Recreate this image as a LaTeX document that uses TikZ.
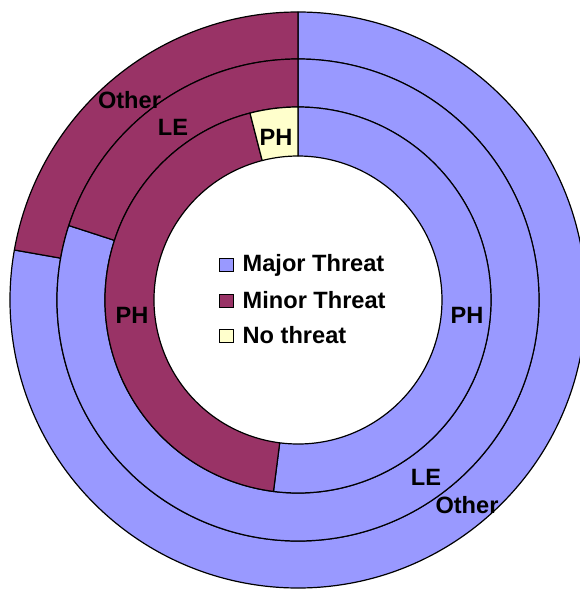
\documentclass[tikz,border=0pt]{standalone}
\usepackage{fontspec}
\setmainfont{Liberation Sans}
\definecolor{major}{HTML}{9999FF}
\definecolor{minor}{HTML}{993366}
\definecolor{nothreat}{HTML}{FFFFCC}
% one annular sector: inner radius, outer radius, start angle, end angle, fill
\newcommand\ringseg[5]{%
  \filldraw[fill=#5, seg] (#3:#2) arc[start angle=#3, end angle=#4, radius=#2]
    -- (#4:#1) arc[start angle=#4, end angle=#3, radius=#1] -- cycle;}
\begin{document}
\begin{tikzpicture}[x=1pt, y=1pt,
  seg/.style={draw=black, line width=1.2pt, line join=round},
  lbl/.style={font=\bfseries\fontsize{23.6}{23.6}\selectfont, inner sep=0pt},
  key/.style={draw=black, line width=0.9pt, minimum width=14pt, minimum height=13pt, inner sep=0pt, anchor=south west},
  keytext/.style={font=\bfseries\fontsize{23.6}{23.6}\selectfont, inner sep=0pt, anchor=base west}]
  \useasboundingbox (-298,-290) rectangle (282,300);
  \clip (-298,-290) rectangle (282,300);
  % outer ring: Other
  \ringseg{241}{288}{90}{-190}{major}
  \ringseg{241}{288}{170}{90}{minor}
  % middle ring: LE
  \ringseg{193}{241}{90}{-198}{major}
  \ringseg{193}{241}{162}{90}{minor}
  % inner ring: PH
  \ringseg{144}{193}{90}{-97.3}{major}
  \ringseg{144}{193}{262.7}{104.4}{minor}
  \ringseg{144}{193}{104.4}{90}{nothreat}
  % ring labels
  \node[lbl] (otherA) at (-168.5,200) {Other};
  \node[lbl] (leA) at (-125,173) {LE};
  \node[lbl] (phA) at (-22,163) {PH};
  \node[lbl] (phB) at (-166,-15) {PH};
  \node[lbl] (phC) at (169,-15) {PH};
  \node[lbl] (leB) at (128,-177) {LE};
  \node[lbl] (otherB) at (169,-205) {Other};
  % legend
  \node[key, fill=major] (kmajor) at (-79,28.5) {};
  \node[keytext] (tmajor) at (-55.5,28.5) {Major Threat};
  \node[key, fill=minor] (kminor) at (-79,-8) {};
  \node[keytext] (tminor) at (-55.5,-8) {Minor Threat};
  \node[key, fill=nothreat] (knone) at (-79,-43) {};
  \node[keytext] (tnone) at (-55.5,-43) {No threat};
\end{tikzpicture}
\end{document}
